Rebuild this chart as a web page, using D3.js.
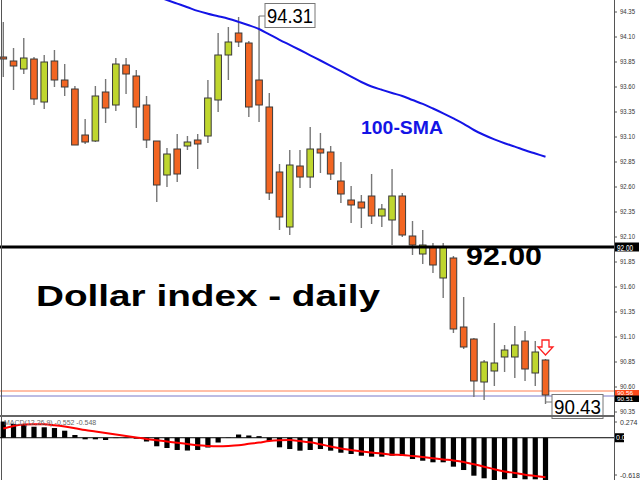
<!DOCTYPE html>
<html><head><meta charset="utf-8">
<script src="https://cdn.jsdelivr.net/npm/d3@7"></script>
<style>body{margin:0;background:#fff}svg{display:block}</style>
</head><body>
<script>
// ---- data ----
const opens  = [93.90,93.86,93.78,93.88,93.45,93.86,93.67,93.58,93.12,93.06,93.55,93.42,93.82,93.71,93.42,93.06,92.72,92.98,93.01,93.07,93.11,93.47,93.92,94.14,94.04,93.67,93.40,92.75,92.20,92.81,92.70,92.98,92.95,92.66,92.47,92.45,92.51,92.31,92.27,92.51,92.11,91.93,92.00,91.69,91.89,91.20,91.08,90.65,90.76,90.90,90.90,91.06,90.74,90.87];
const highs  = [94.25,93.99,94.09,93.90,93.92,93.97,93.83,93.61,93.28,93.61,93.68,93.89,93.89,93.77,93.51,93.06,92.99,93.13,93.11,93.13,93.67,94.14,94.20,94.30,94.06,94.31,93.54,92.83,92.97,92.97,93.20,93.14,93.01,92.85,92.61,92.52,92.73,92.43,92.78,92.54,92.26,92.17,92.04,92.04,91.91,91.50,91.09,90.87,91.24,91.02,91.21,91.16,91.06,90.88];
const lows   = [93.70,93.57,93.73,93.42,93.38,93.60,93.51,93.02,93.03,93.05,93.24,93.36,93.53,93.19,92.99,92.45,92.60,92.65,92.97,92.78,93.04,93.35,93.67,94.00,93.30,93.25,92.47,92.17,92.12,92.59,92.59,92.74,92.67,92.44,92.24,92.19,92.23,92.20,92.02,92.10,91.92,91.83,91.74,91.49,91.14,90.98,90.50,90.47,90.61,90.75,90.69,90.66,90.61,90.43];
const closes = [93.88,93.81,93.89,93.48,93.85,93.67,93.60,93.02,93.05,93.51,93.39,93.83,93.73,93.40,93.07,92.62,92.93,92.73,93.05,93.03,93.49,93.92,94.05,94.05,93.40,93.42,92.54,92.30,92.82,92.70,92.98,92.94,92.73,92.53,92.42,92.39,92.31,92.38,92.51,92.12,92.02,92.02,91.82,92.00,91.18,91.00,90.66,90.85,90.84,90.97,91.02,90.78,90.95,90.52];
const sma100 = [null,null,null,null,null,null,null,null,null,null,null,null,null,null,null,
  94.506,94.470,94.434,94.398,94.361,94.333,94.308,94.282,94.251,94.218,94.180,94.126,94.072,94.021,93.970,
  93.917,93.865,93.812,93.758,93.704,93.650,93.605,93.572,93.540,93.510,93.470,93.431,93.385,93.337,93.286,
  93.232,93.170,93.120,93.076,93.038,93.004,92.967,92.935,92.903];
const macdMain = [0.237,0.201,0.194,0.161,0.153,0.142,0.103,0.040,-0.023,-0.023,-0.033,-0.005,-0.005,-0.014,-0.055,-0.125,-0.150,-0.179,-0.187,-0.179,-0.143,-0.070,-0.004,0.047,0.033,0.023,-0.048,-0.140,-0.165,-0.189,-0.179,-0.165,-0.189,-0.219,-0.238,-0.263,-0.277,-0.277,-0.263,-0.267,-0.311,-0.336,-0.359,-0.359,-0.423,-0.472,-0.555,-0.593,-0.618,-0.608,-0.589,-0.608,-0.608,-0.618];
const macdSignal = [0.135,0.172,0.194,0.196,0.196,0.183,0.164,0.139,0.113,0.091,0.069,0.047,0.025,0.004,-0.018,-0.037,-0.055,-0.073,-0.092,-0.111,-0.121,-0.125,-0.121,-0.111,-0.089,-0.070,-0.048,-0.037,-0.033,-0.048,-0.067,-0.096,-0.128,-0.157,-0.179,-0.201,-0.216,-0.230,-0.248,-0.252,-0.267,-0.282,-0.299,-0.317,-0.333,-0.355,-0.388,-0.423,-0.461,-0.494,-0.515,-0.540,-0.559,-0.578];
const priceTicks = ["94.35","94.10","93.85","93.60","93.35","93.10","92.85","92.60","92.35","92.10","91.85","91.60","91.35","91.10","90.85","90.60","90.35"];
const macdTicks = ["0.274","0.00","-0.618"];
const supportLevel = 92.00;
const bidLevel = 90.51, askLevel = 90.56;
const highLabel = "94.31", lowLabel = "90.43";
const title = "Dollar index - daily";
const smaLabel = "100-SMA";
const macdLegend = "MACD(12,26,9) -0.552 -0.548";

// ---- layout ----
const W = 640, H = 480;
const axisX = 614, panelBottom = 416;
const svg = d3.select("body").append("svg").attr("width", W).attr("height", H)
  .style("font-family", "'Liberation Sans', Arial, sans-serif");

const n = closes.length;
const x = d3.scaleLinear().domain([0, n - 1]).range([3.3, 545.5]);
const y = d3.scaleLinear().domain([94.47, 90.30]).range([0, 417]);
const ym = d3.scaleLinear().domain([0.274, -0.618]).range([419, 480]);

const defs = svg.append("defs");
defs.append("clipPath").attr("id", "pc").append("rect").attr("x", 0).attr("y", 0).attr("width", axisX).attr("height", panelBottom - 1);
defs.append("clipPath").attr("id", "mc").append("rect").attr("x", 0).attr("y", 418).attr("width", axisX).attr("height", 62);

const price = svg.append("g").attr("clip-path", "url(#pc)");

// horizontal lines
price.append("line").attr("x1", 0).attr("x2", axisX).attr("y1", y(askLevel)).attr("y2", y(askLevel))
  .attr("stroke", "#ff7f50").attr("stroke-width", 1);
price.append("line").attr("x1", 0).attr("x2", axisX).attr("y1", y(bidLevel)).attr("y2", y(bidLevel))
  .attr("stroke", "#7878c8").attr("stroke-width", 1);

// candles
const idx = d3.range(n);
price.selectAll(".wick").data(idx).join("line")
  .attr("x1", i => x(i)).attr("x2", i => x(i))
  .attr("y1", i => y(highs[i])).attr("y2", i => y(lows[i]))
  .attr("stroke", "#777").attr("stroke-width", 1.4);
price.selectAll(".body").data(idx).join("rect")
  .attr("x", i => x(i) - 3.3).attr("width", 6.6)
  .attr("y", i => y(Math.max(opens[i], closes[i])))
  .attr("height", i => Math.max(1.5, Math.abs(y(opens[i]) - y(closes[i]))))
  .attr("fill", i => closes[i] >= opens[i] ? "#bfd62e" : "#f26522")
  .attr("stroke", "#3a3a3a").attr("stroke-width", 1);

// SMA
const smaLine = d3.line().defined(d => d[1] != null).x(d => x(d[0])).y(d => y(d[1])).curve(d3.curveMonotoneX);
price.append("path").datum(sma100.map((v, i) => [i, v]))
  .attr("d", smaLine).attr("fill", "none").attr("stroke", "#1414e6").attr("stroke-width", 2);

// support line 92.00
svg.append("line").attr("x1", 0).attr("x2", axisX).attr("y1", y(supportLevel)).attr("y2", y(supportLevel))
  .attr("stroke", "#000").attr("stroke-width", 3);

// frame lines
svg.append("line").attr("x1", 1.5).attr("x2", 1.5).attr("y1", 0).attr("y2", H).attr("stroke", "#555").attr("stroke-width", 1);
svg.append("line").attr("x1", axisX + 0.5).attr("x2", axisX + 0.5).attr("y1", 0).attr("y2", H).attr("stroke", "#555").attr("stroke-width", 1);

// right price axis
const axisG = svg.append("g");
priceTicks.forEach(t => {
  const v = +t, yy = y(v);
  axisG.append("line").attr("x1", axisX).attr("x2", axisX + 3).attr("y1", yy).attr("y2", yy).attr("stroke", "#555");
  axisG.append("text").attr("x", 620).attr("y", yy + 1.5).attr("font-size", 7)
    .attr("textLength", 15).attr("lengthAdjust", "spacingAndGlyphs").attr("fill", "#333").text(t);
});
function axisBox(val, top, h, bg, fg) {
  axisG.append("rect").attr("x", axisX + 1).attr("y", top).attr("width", 24).attr("height", h).attr("fill", bg);
  axisG.append("text").attr("x", 617).attr("y", top + h - 1).attr("font-size", h - 0.5)
    .attr("textLength", 16).attr("lengthAdjust", "spacingAndGlyphs").attr("fill", fg).text(val);
}
axisBox(supportLevel.toFixed(2), y(supportLevel) - 4.5, 9, "#000", "#fff");
axisBox(askLevel.toFixed(2), y(askLevel) - 1, 6, "#ff4a1a", "#fff");
axisBox(bidLevel.toFixed(2), y(bidLevel) - 0.5, 6.5, "#000", "#fff");

// MACD panel
const macdG = svg.append("g").attr("clip-path", "url(#mc)");
macdG.append("line").attr("x1", 0).attr("x2", axisX).attr("y1", ym(0)).attr("y2", ym(0)).attr("stroke", "#000").attr("stroke-width", 1);
macdG.selectAll(".hist").data(idx).join("rect")
  .attr("x", i => x(i) - 2.6).attr("width", 5.2)
  .attr("y", i => Math.min(ym(0), ym(macdMain[i])))
  .attr("height", i => Math.abs(ym(macdMain[i]) - ym(0)))
  .attr("fill", "#000");
macdG.append("path").datum(macdSignal.map((v, i) => [i, v]))
  .attr("d", d3.line().x(d => x(d[0])).y(d => ym(d[1])).curve(d3.curveMonotoneX))
  .attr("fill", "none").attr("stroke", "#ff0000").attr("stroke-width", 2);
svg.append("text").attr("x", 4).attr("y", 425).attr("font-size", 7).attr("fill", "#666").text(macdLegend);

macdTicks.forEach(t => {
  const v = +t;
  let yy = ym(v);
  if (v === 0) {
    axisG.append("rect").attr("x", axisX + 1).attr("y", yy - 4.5).attr("width", 9).attr("height", 9).attr("fill", "#000");
    axisG.append("text").attr("x", 616).attr("y", yy + 2.5).attr("font-size", 7).attr("fill", "#fff").text(t);
  } else {
    yy = v > 0 ? yy + 3 : yy - 5;
    axisG.append("line").attr("x1", axisX).attr("x2", axisX + 3).attr("y1", yy).attr("y2", yy).attr("stroke", "#555");
    axisG.append("text").attr("x", 620).attr("y", yy + 2.5).attr("font-size", 7).attr("fill", "#333").text(t);
  }
});

// annotations
const hiI = highs.indexOf(d3.max(highs));
const hx = x(hiI), hy = y(+highLabel);
svg.append("line").attr("x1", hx).attr("x2", 265).attr("y1", hy).attr("y2", hy).attr("stroke", "#777");
svg.append("rect").attr("x", 265).attr("y", 3.5).attr("width", 50).attr("height", 24).attr("fill", "#fff").attr("stroke", "#777");
svg.append("text").attr("x", 267).attr("y", 23).attr("font-size", 20).attr("textLength", 46).attr("lengthAdjust", "spacingAndGlyphs").text(highLabel);

const lx = x(n - 1), ly = y(+lowLabel) - 2;
svg.append("path").attr("d", `M${lx},${y(lows[n-1])}V${ly}H552`).attr("fill", "none").attr("stroke", "#777");
svg.append("rect").attr("x", 552).attr("y", 394.5).attr("width", 51).attr("height", 24).attr("fill", "#fff").attr("stroke", "#777");
svg.append("text").attr("x", 554).attr("y", 414).attr("font-size", 20).attr("textLength", 47).attr("lengthAdjust", "spacingAndGlyphs").text(lowLabel);
svg.append("line").attr("x1", 0).attr("x2", axisX).attr("y1", panelBottom).attr("y2", panelBottom).attr("stroke", "#666").attr("stroke-width", 2);

// red arrow
const ax = x(n - 1), ayTop = y(highs[n-1]) - 19;
svg.append("path").attr("d", `M${ax-3.5},${ayTop}h7v7h4l-7.5,8l-7.5,-8h4z`)
  .attr("fill", "#fff").attr("stroke", "#ff2020").attr("stroke-width", 1.3);

svg.append("text").attr("x", 361).attr("y", 134).attr("font-size", 18).attr("font-weight", "bold")
  .attr("fill", "#1414e6").attr("textLength", 82).attr("lengthAdjust", "spacingAndGlyphs").text(smaLabel);
svg.append("text").attr("x", 466).attr("y", 265).attr("font-size", 26).attr("font-weight", "900")
  .attr("fill", "#000").attr("textLength", 76).attr("lengthAdjust", "spacingAndGlyphs").text(supportLevel.toFixed(2));
svg.append("text").attr("x", 36).attr("y", 306).attr("font-size", 30).attr("font-weight", "900")
  .attr("fill", "#000").attr("textLength", 344).attr("lengthAdjust", "spacingAndGlyphs").text(title);
</script>
</body></html>
